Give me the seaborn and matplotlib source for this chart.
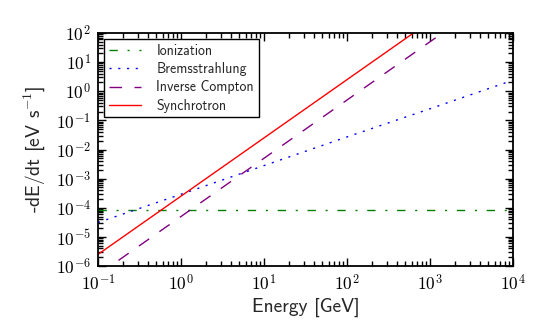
import numpy as np
import pandas as pd
import matplotlib
matplotlib.use("Agg")
import matplotlib.pyplot as plt
import matplotlib.ticker as mticker
import seaborn as sns

# ---- data ----
energy = [0.1, 1.0, 10.0, 100.0, 1000.0, 10000.0]
ionization = [8.2e-5, 8.2e-5, 8.2e-5, 8.2e-5, 8.2e-5, 8.2e-5]
bremsstrahlung = [3.1e-5, 2.9e-4, 2.8e-3, 2.7e-2, 2.5e-1, 2.4]
inverse_compton = [5.0e-7, 5.0e-5, 5.0e-3, 5.0e-1, 5.0e1, 5.0e3]
synchrotron = [2.5e-6, 2.5e-4, 2.5e-2, 2.5, 2.5e2, 2.5e4]
labels = ["Ionization", "Bremsstrahlung", "Inverse Compton", "Synchrotron"]

sns.set_style("white")
plt.rcParams["mathtext.fontset"] = "cm"
plt.rcParams["font.family"] = ["cmss10", "DejaVu Sans"]
plt.rcParams["axes.unicode_minus"] = False

fig = plt.figure(figsize=(5.39, 3.33), dpi=100)
ax = fig.add_axes([98 / 539, 1 - 266 / 333, (513 - 98) / 539, (266 - 33) / 333])
ax.set_xscale("log")
ax.set_yscale("log")

df = pd.DataFrame({"energy": energy, "ion": ionization, "brems": bremsstrahlung,
                   "ic": inverse_compton, "syn": synchrotron})

styles = [
    ("ion", "#008000", (0, (6, 7, 1.5, 7))),
    ("brems", "#0000ff", (0, (1.5, 4.8))),
    ("ic", "#800080", (0, (9, 9))),
    ("syn", "#ff0000", "-"),
]
for (col, color, ls), lab in zip(styles, labels):
    sns.lineplot(data=df, x="energy", y=col, ax=ax, color=color, linestyle=ls,
                 linewidth=1.0, label=lab)

ax.set_xlim(0.1, 1e4)
ax.set_ylim(1e-6, 1e2)

fmt = mticker.FuncFormatter(lambda v, p: r"$10^{%d}$" % int(round(np.log10(v))))
ax.xaxis.set_major_locator(mticker.LogLocator(base=10, numticks=20))
ax.yaxis.set_major_locator(mticker.LogLocator(base=10, numticks=20))
ax.xaxis.set_minor_locator(mticker.LogLocator(base=10, subs=np.arange(2, 10), numticks=20))
ax.yaxis.set_minor_locator(mticker.LogLocator(base=10, subs=np.arange(2, 10), numticks=20))
ax.xaxis.set_major_formatter(fmt)
ax.yaxis.set_major_formatter(fmt)
ax.xaxis.set_minor_formatter(mticker.NullFormatter())
ax.yaxis.set_minor_formatter(mticker.NullFormatter())

ax.tick_params(which="both", direction="in", top=True, right=True, bottom=True, left=True,
               colors="black", width=1.0)
ax.tick_params(which="major", length=6, labelsize=12.5)
ax.tick_params(axis="x", which="major", pad=5)
ax.tick_params(axis="y", which="major", pad=5)
ax.tick_params(which="minor", length=3.5)
for s in ax.spines.values():
    s.set_color("black")
    s.set_linewidth(1.3)

ax.set_xlabel("Energy [GeV]", fontsize=14, labelpad=3)
ax.set_ylabel("-dE/dt [eV s$^{-1}$]", fontsize=14, labelpad=6)

leg = ax.legend(loc="upper left", fontsize=10, fancybox=False, framealpha=1,
                edgecolor="black", handlelength=2.3, handletextpad=1.1,
                labelspacing=0.3, borderaxespad=0.45, borderpad=0.35)
leg.get_frame().set_linewidth(1.0)

fig.savefig("out.png", dpi=100, facecolor="white")
